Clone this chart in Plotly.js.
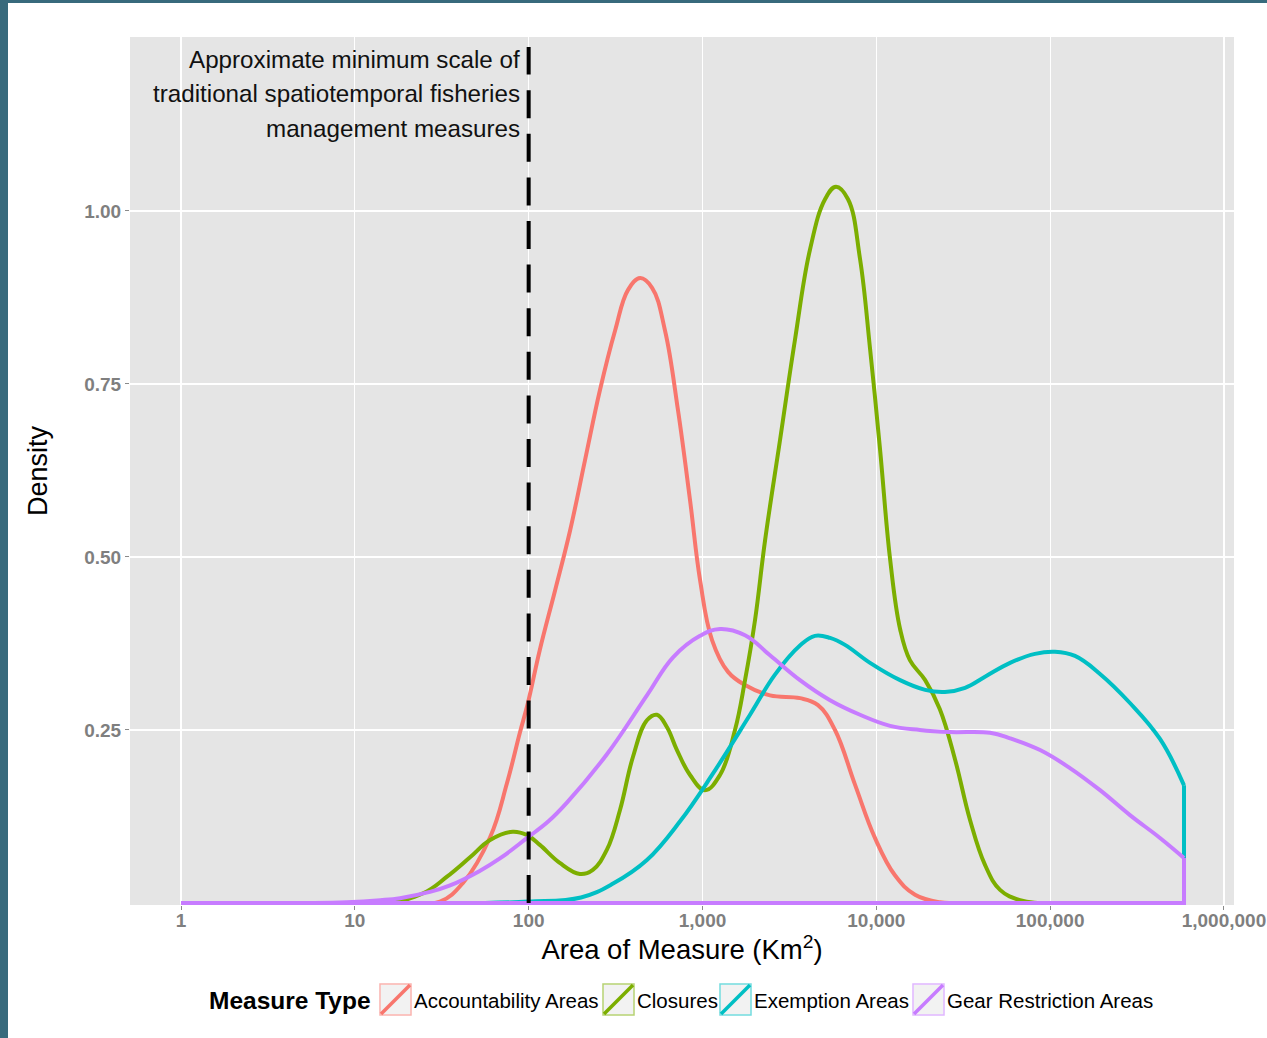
<!DOCTYPE html>
<html>
<head>
<meta charset="utf-8">
<script src="https://cdn.plot.ly/plotly-3.0.1.min.js"></script>
<style>
  html, body { margin: 0; padding: 0; background: #386A7C; width: 1267px; height: 1038px; overflow: hidden; }
  #chart { position: absolute; left: 8px; top: 3px; width: 1259px; height: 1035px; background: #fff; }
</style>
</head>
<body>
<div id="chart"></div>
<script>
// ---------------- DATA ----------------
const categories = ["Accountability Areas", "Closures", "Exemption Areas", "Gear Restriction Areas"];
const seriesColors = ["#F8766D", "#7CAE00", "#00BFC4", "#C77CFF"];

// Area of measure (km²) and estimated density
const accountabilityX = [1, 20, 30.9, 41.9, 60, 75, 89, 99, 116, 142, 173, 211, 257, 314, 373, 438, 513, 609, 723, 848, 968, 1135, 1403, 1757, 2445, 3637, 4619, 5786, 7540, 9820, 12800, 16700, 23200, 30300, 589000];
const accountabilityY = [0, 0, 0.002, 0.029, 0.095, 0.173, 0.246, 0.289, 0.366, 0.452, 0.538, 0.640, 0.741, 0.827, 0.886, 0.903, 0.889, 0.827, 0.712, 0.582, 0.467, 0.380, 0.334, 0.315, 0.300, 0.296, 0.286, 0.250, 0.171, 0.094, 0.040, 0.012, 0.001, 0, 0];

const closuresX = [1, 15, 24.7, 33.9, 46, 60, 81, 98, 116, 151, 197, 234, 282, 335, 398, 479, 547, 625, 713, 848, 1033, 1261, 1538, 1757, 2006, 2291, 2793, 3405, 4152, 5070, 5862, 6874, 8057, 9204, 10500, 12000, 13700, 15600, 19100, 23200, 28400, 34600, 42200, 51500, 67100, 87500, 589000];
const closuresY = [0, 0, 0.014, 0.038, 0.066, 0.091, 0.103, 0.098, 0.084, 0.058, 0.042, 0.048, 0.077, 0.134, 0.211, 0.264, 0.272, 0.254, 0.221, 0.185, 0.163, 0.185, 0.250, 0.322, 0.409, 0.524, 0.669, 0.814, 0.944, 1.017, 1.035, 1.017, 0.931, 0.801, 0.656, 0.497, 0.396, 0.351, 0.322, 0.280, 0.207, 0.120, 0.055, 0.019, 0.004, 0, 0];

const exemptionX = [1, 50, 100, 200, 306, 479, 743, 1135, 1877, 2612, 3637, 4436, 5418, 6605, 9204, 13700, 19100, 24800, 32400, 42200, 58800, 81800, 106600, 139000, 193600, 287800, 428500, 589000];
const exemptionY = [0, 0, 0.002, 0.008, 0.028, 0.062, 0.118, 0.185, 0.272, 0.330, 0.372, 0.386, 0.383, 0.373, 0.347, 0.322, 0.308, 0.305, 0.311, 0.327, 0.347, 0.360, 0.363, 0.357, 0.331, 0.289, 0.237, 0.170];

const gearX = [1, 5, 9, 14, 18.2, 27, 35, 52, 68, 98, 130, 166, 282, 479, 677, 968, 1261, 1757, 2445, 3637, 5418, 8057, 12000, 17800, 26500, 45100, 58800, 87500, 130000, 193600, 287800, 428500, 589000];
const gearY = [0, 0, 0.001, 0.004, 0.007, 0.016, 0.025, 0.046, 0.064, 0.094, 0.118, 0.145, 0.215, 0.300, 0.355, 0.386, 0.396, 0.387, 0.358, 0.322, 0.293, 0.272, 0.256, 0.250, 0.247, 0.246, 0.238, 0.221, 0.195, 0.163, 0.127, 0.094, 0.065];

// Threshold line (approximate minimum scale of traditional measures)
const thresholdX = [100, 100];
const thresholdY = [0, 1.237];
const noteLines = ["Approximate minimum scale of", "traditional spatiotemporal fisheries", "management measures"];

// Axis ticks
const xTickVals = [1, 10, 100, 1000, 10000, 100000, 1000000];
const xTickText = ["1", "10", "100", "1,000", "10,000", "100,000", "1,000,000"];
const yTickVals = [0.25, 0.50, 0.75, 1.00];
const yTickText = ["0.25", "0.50", "0.75", "1.00"];

// ---------------- BUILD ----------------
const FONT = "Liberation Sans, Arial, Helvetica, sans-serif";
const seriesX = [accountabilityX, closuresX, exemptionX, gearX];
const seriesY = [accountabilityY, closuresY, exemptionY, gearY];
const LW = 4;

const traces = [];
categories.forEach((name, i) => {
  const xs = seriesX[i], ys = seriesY[i];
  traces.push({
    type: "scatter", mode: "lines", name: name, x: xs, y: ys,
    line: { color: seriesColors[i], width: LW, shape: "spline", smoothing: 1.15 },
    showlegend: false, hoverinfo: "x+y+name"
  });
  // close the density polygon (right edge down to 0, back along the baseline)
  const n = xs.length - 1;
  traces.push({
    type: "scatter", mode: "lines", name: name,
    x: [xs[n], xs[n], xs[0]], y: [ys[n], 0, 0],
    line: { color: seriesColors[i], width: LW },
    showlegend: false, hoverinfo: "skip"
  });
});
traces.push({
  type: "scatter", mode: "lines", x: thresholdX, y: thresholdY,
  line: { color: "#000000", width: 4, dash: "28px,15.6px" },
  showlegend: false, hoverinfo: "skip"
});

// geometry helpers for the custom legend (page pixel -> paper)
const M = { l: 122, r: 33, t: 34, b: 133 };
const W = 1259, H = 1035, OX = 8, OY = 3;
const PW = W - M.l - M.r, PH = H - M.t - M.b;
const px = v => (v - OX - M.l) / PW;
const py = v => 1 - (v - OY - M.t) / PH;

const shapes = [];
const annotations = [];

// note text beside the threshold line
const noteY = [1.219, 1.170, 1.119];
noteLines.forEach((t, k) => {
  annotations.push({
    xref: "x", yref: "y", x: Math.log10(thresholdX[0]), y: noteY[k],
    text: t, showarrow: false, xanchor: "right", yanchor: "middle", xshift: -7,
    font: { family: FONT, size: 24.2, color: "#111111" }
  });
});

// custom legend
annotations.push({
  xref: "paper", yref: "paper", x: px(373), y: py(1000), text: "<b>Measure Type</b>",
  showarrow: false, xanchor: "right", yanchor: "middle",
  font: { family: FONT, size: 24.5, color: "#000000" }
});
const keyLeft = [380, 603, 720, 913];
const keySize = 31;
const keyTop = 984;
categories.forEach((name, i) => {
  const x0 = keyLeft[i], x1 = x0 + keySize, y0 = keyTop, y1 = keyTop + keySize;
  shapes.push({
    type: "rect", xref: "paper", yref: "paper",
    x0: px(x0), x1: px(x1), y0: py(y1), y1: py(y0),
    fillcolor: "#F2F2F2", line: { color: seriesColors[i], width: 1.5 }, opacity: 0.55
  });
  shapes.push({
    type: "rect", xref: "paper", yref: "paper",
    x0: px(x0 + 1), x1: px(x1 - 1), y0: py(y1 - 1), y1: py(y0 + 1),
    fillcolor: "#F2F2F2", line: { width: 0 }
  });
  shapes.push({
    type: "line", xref: "paper", yref: "paper",
    x0: px(x0 + 1), x1: px(x1 - 1), y0: py(y1 - 1), y1: py(y0 + 1),
    line: { color: seriesColors[i], width: 3.5 }
  });
  annotations.push({
    xref: "paper", yref: "paper", x: px(x1 + 1), y: py(1000), text: name,
    showarrow: false, xanchor: "left", yanchor: "middle",
    font: { family: FONT, size: 20.5, color: "#000000" }
  });
});

const tickFont = { family: FONT, size: 19, color: "#7F7F7F", weight: 700 };

const layout = {
  width: W, height: H,
  margin: M,
  paper_bgcolor: "#FFFFFF",
  plot_bgcolor: "#E5E5E5",
  font: { family: FONT },
  showlegend: false,
  xaxis: {
    type: "log",
    range: [-0.2934, 6.0577],
    tickvals: xTickVals, ticktext: xTickText,
    tickfont: tickFont,
    ticks: "outside", ticklen: 4, tickcolor: "#8A8A8A", tickwidth: 1,
    ticklabelstandoff: -6,
    showgrid: true, gridcolor: "#FFFFFF", gridwidth: 1.2,
    zeroline: false, showline: false,
    title: { text: "Area of Measure (Km<sup>2</sup>)", standoff: 6,
             font: { family: FONT, size: 27.5, color: "#000000" } }
  },
  yaxis: {
    range: [-0.0029, 1.2514],
    tickvals: yTickVals, ticktext: yTickText,
    tickfont: tickFont,
    ticks: "outside", ticklen: 4, tickcolor: "#8A8A8A", tickwidth: 1,
    showgrid: true, gridcolor: "#FFFFFF", gridwidth: 1.2,
    zeroline: false, showline: false,
    title: { text: "Density", standoff: 28,
             font: { family: FONT, size: 27, color: "#000000" } }
  },
  shapes: shapes,
  annotations: annotations
};

Plotly.newPlot("chart", traces, layout, { displayModeBar: false, staticPlot: true });
</script>
</body>
</html>
